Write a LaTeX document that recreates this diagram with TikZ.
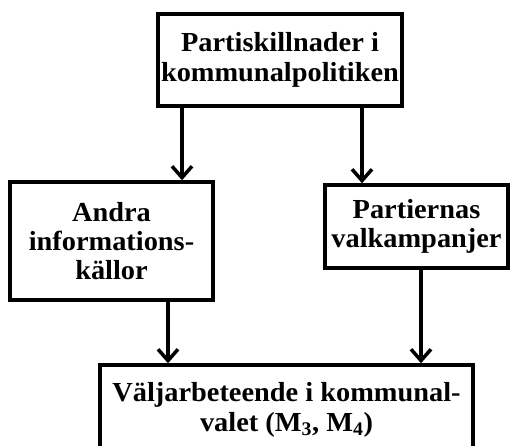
\documentclass[tikz,border=0pt]{standalone}
\usepackage{fontspec}
\setmainfont[FakeStretch=1.03]{Liberation Serif}
\usetikzlibrary{positioning, arrows.meta}

\begin{document}
\begin{tikzpicture}[
      x=0.03cm, y=-0.03cm,
      font=\bfseries\fontsize{23.5}{25}\selectfont,
      box/.style={rectangle, draw=black, line width=3pt, align=center, inner sep=0pt},
      arrow/.style={-{Straight Barb[length=3.4mm, width=6mm]}, line width=3pt}
  ]
  \clip (0,0) rectangle (512,445);

  % Nodes
  \node[box, minimum width=244*0.03cm, minimum height=92*0.03cm] (parti) at (280,60) {Partiskillnader i\\kommunalpolitiken};
  \node[box, minimum width=203*0.03cm, minimum height=118*0.03cm] (andra) at (111.5,241) {Andra\\informations-\\källor};
  \node[box, minimum width=183*0.03cm, minimum height=83*0.03cm] (kampanj) at (416.5,226.5) {Partiernas\\valkampanjer};
  \node[box, minimum width=373*0.03cm, minimum height=90*0.03cm] (val) at (286.5,410) {Väljarbeteende i kommunal-\\valet (M\textsubscript{3}, M\textsubscript{4})};

  % Arrows
  \draw[arrow] (182,0 |- parti.south) -- (182,0 |- andra.north);
  \draw[arrow] (362,0 |- parti.south) -- (362,0 |- kampanj.north);
  \draw[arrow] (168,0 |- andra.south) -- (168,0 |- val.north);
  \draw[arrow] (421,0 |- kampanj.south) -- (421,0 |- val.north);

\end{tikzpicture}
\end{document}
